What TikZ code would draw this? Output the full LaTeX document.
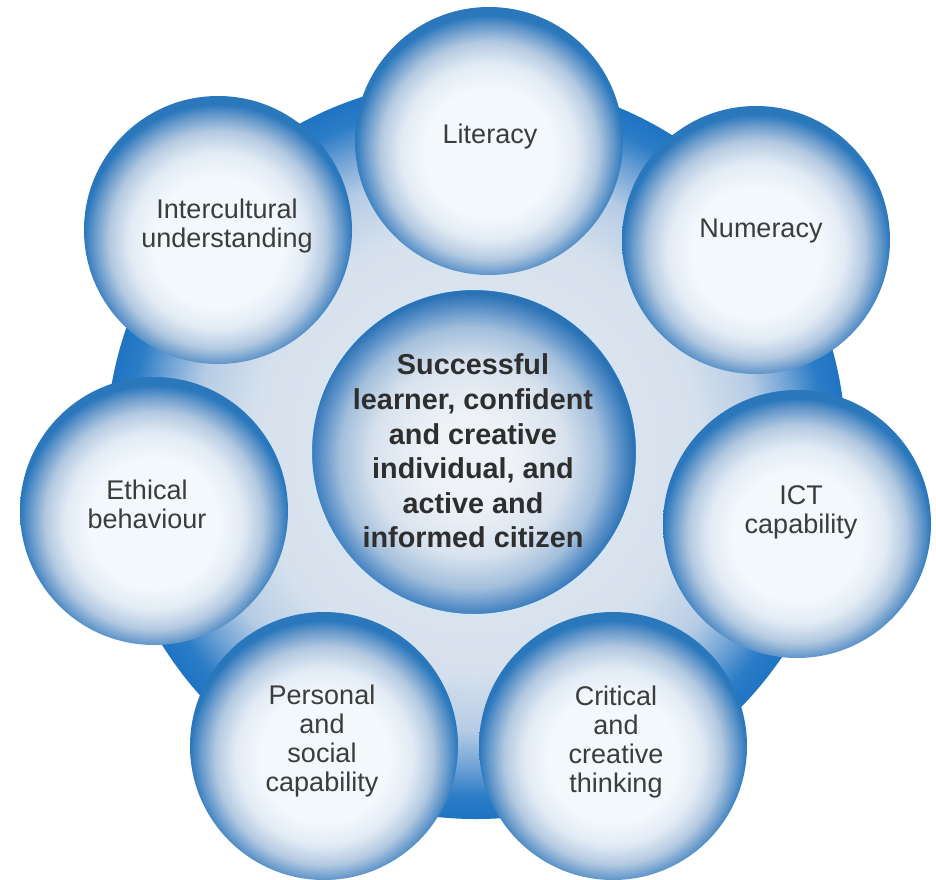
\documentclass[tikz,border=0pt]{standalone}
\usepackage{fontspec}
\setmainfont{Liberation Sans}
\definecolor{sA}{HTML}{F3F8FC}
\definecolor{sB}{HTML}{E2EBF5}
\definecolor{sC}{HTML}{B3C9E1}
\definecolor{sD}{HTML}{6A9BCC}
\definecolor{sE}{HTML}{2A77BC}
\definecolor{cA}{HTML}{EEF2F7}
\definecolor{cB}{HTML}{D8E2EE}
\definecolor{cC}{HTML}{A3BFDC}
\definecolor{cD}{HTML}{5A90C8}
\definecolor{cE}{HTML}{2C73B6}
\definecolor{bA}{HTML}{E4EAF2}
\definecolor{bB}{HTML}{D6E1ED}
\definecolor{bC}{HTML}{B6CCE5}
\definecolor{bD}{HTML}{6FA2D6}
\definecolor{bE}{HTML}{2A7CC6}
\definecolor{bF}{HTML}{1F74C3}
\definecolor{halo}{HTML}{D3E6F6}
\definecolor{txt}{HTML}{3C3C3C}
\definecolor{ctxt}{HTML}{2E2E2E}
\pgfdeclareradialshading{bubshade}{\pgfpoint{0bp}{-3bp}}{color(0bp)=(sA); color(12bp)=(sA); color(16.5bp)=(sB); color(20.3bp)=(sC); color(23bp)=(sD); color(25bp)=(sE); color(50bp)=(sE)}
\pgfdeclareradialshading{centershade}{\pgfpoint{-1bp}{-1.5bp}}{color(0bp)=(cA); color(7bp)=(cA); color(15bp)=(cB); color(20bp)=(cC); color(23bp)=(cD); color(25bp)=(cE); color(50bp)=(cE)}
\pgfdeclareradialshading{bgshade}{\pgfpoint{0bp}{0bp}}{color(0bp)=(bA); color(15bp)=(bB); color(19bp)=(bC); color(21.5bp)=(bD); color(23.5bp)=(bE); color(25bp)=(bF); color(50bp)=(bF)}
\tikzset{
  bub/.style={circle, inner sep=0pt, minimum size=134pt, shade, shading=bubshade},
  ctrbub/.style={circle, inner sep=0pt, minimum size=163pt, shade, shading=centershade, draw=halo, line width=1pt},
  bgdisc/.style={circle, inner sep=0pt, minimum size=370pt, shade, shading=bgshade},
  lbl/.style={text=txt, align=center, inner sep=0pt, font=\fontsize{13.5}{14.5}\selectfont},
  clbl/.style={text=ctxt, align=center, inner sep=0pt, font=\fontsize{14.4}{17.3}\selectfont\bfseries},
}
\begin{document}
\begin{tikzpicture}[x=0.5pt,y=-0.5pt]
\useasboundingbox (0,0) rectangle (936,879);
\node[bgdisc] (bg) at (476,449) {};
\node[ctrbub] (ctr) at (474,452) {};
\node[bub] (inter) at (218,230) {};
\node[bub] (lit) at (489,141) {};
\node[bub] (num) at (756,240) {};
\node[bub] (ict) at (797,524) {};
\node[bub] (crit) at (613,746) {};
\node[bub] (pers) at (324,746) {};
\node[bub] (eth) at (154,511) {};
\node[clbl] (ctrT) at (473,451) {Successful\\learner, confident\\and creative\\individual, and\\active and\\informed citizen};
\node[lbl] (interT) at (227,226) {Intercultural\\understanding};
\node[lbl] (litT) at (490,137) {Literacy};
\node[lbl] (numT) at (761,231) {Numeracy};
\node[lbl] (ictT) at (801,512) {ICT\\capability};
\node[lbl] (critT) at (616,742) {Critical\\and\\creative\\thinking};
\node[lbl] (persT) at (322,741) {Personal\\and\\social\\capability};
\node[lbl] (ethT) at (147,504) {Ethical\\behaviour};
\end{tikzpicture}
\end{document}
